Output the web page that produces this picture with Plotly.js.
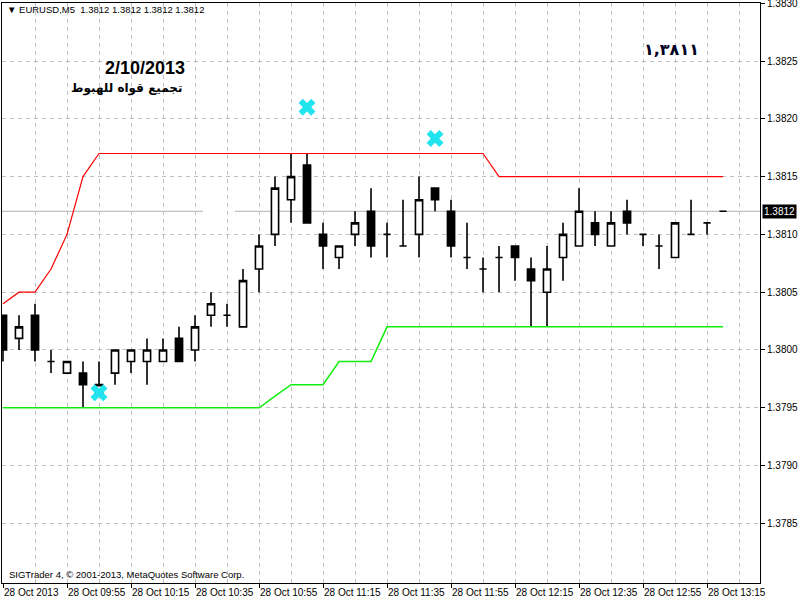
<!DOCTYPE html>
<html>
<head>
<meta charset="utf-8">
<script src="https://cdn.plot.ly/plotly-3.0.1.min.js"></script>
<style>html,body{margin:0;padding:0;background:#fff;}#chart{width:800px;height:600px;}</style>
</head>
<body>
<div id="chart"></div>
<script>
// ---- data (EURUSD M5, 28 Oct 2013, bars 09:35 .. 13:20) ----
const barIndex = Array.from({length: 46}, (_, i) => i);
const openPrices  = [1.3803,1.3801,1.3803,1.3799,1.3798,1.3798,1.3796,1.3798,1.3799,1.3799,1.3799,1.3801,1.3800,1.3803,1.3803,1.3802,1.3807,1.3810,1.3813,1.3816,1.3810,1.3808,1.3810,1.3812,1.3810,1.3809,1.3810,1.3814,1.3812,1.3808,1.3807,1.3808,1.3809,1.3807,1.3805,1.3808,1.3809,1.3811,1.3809,1.3812,1.3810,1.3809,1.3808,1.3810,1.3811,1.3812];
const highPrices  = [1.3803,1.3803,1.3804,1.3800,1.3799,1.3799,1.3799,1.3800,1.3800,1.3801,1.3801,1.3802,1.3803,1.3805,1.3804,1.3807,1.3810,1.3815,1.3817,1.3817,1.3811,1.3809,1.3812,1.3814,1.3811,1.3813,1.3815,1.3814,1.3813,1.3811,1.3808,1.3809,1.3809,1.3808,1.3809,1.3811,1.3814,1.3812,1.3812,1.3813,1.3810,1.3810,1.3811,1.3813,1.3811,1.3812];
const lowPrices   = [1.3799,1.3800,1.3799,1.3798,1.3798,1.3795,1.3796,1.3797,1.3798,1.3797,1.3799,1.3799,1.3799,1.3802,1.3802,1.3802,1.3805,1.3809,1.3811,1.3811,1.3807,1.3807,1.3809,1.3808,1.3808,1.3809,1.3808,1.3812,1.3808,1.3807,1.3805,1.3805,1.3806,1.3802,1.3802,1.3806,1.3809,1.3809,1.3809,1.3810,1.3809,1.3807,1.3808,1.3810,1.3810,1.3812];
const closePrices = [1.3800,1.3802,1.3800,1.3799,1.3799,1.3797,1.3797,1.3800,1.3800,1.3800,1.3800,1.3799,1.3802,1.3804,1.3803,1.3806,1.3809,1.3814,1.3815,1.3811,1.3809,1.3809,1.3811,1.3809,1.3810,1.3809,1.3813,1.3813,1.3809,1.3808,1.3807,1.3808,1.3808,1.3806,1.3807,1.3810,1.3812,1.3810,1.3811,1.3811,1.3810,1.3809,1.3811,1.3810,1.3811,1.3812];
const upperBand = [1.3804,1.3805,1.3805,1.3807,1.3810,1.3815,1.3817,1.3817,1.3817,1.3817,1.3817,1.3817,1.3817,1.3817,1.3817,1.3817,1.3817,1.3817,1.3817,1.3817,1.3817,1.3817,1.3817,1.3817,1.3817,1.3817,1.3817,1.3817,1.3817,1.3817,1.3817,1.3815,1.3815,1.3815,1.3815,1.3815,1.3815,1.3815,1.3815,1.3815,1.3815,1.3815,1.3815,1.3815,1.3815,1.3815];
const lowerBand = [1.3795,1.3795,1.3795,1.3795,1.3795,1.3795,1.3795,1.3795,1.3795,1.3795,1.3795,1.3795,1.3795,1.3795,1.3795,1.3795,1.3795,1.3796,1.3797,1.3797,1.3797,1.3799,1.3799,1.3799,1.3802,1.3802,1.3802,1.3802,1.3802,1.3802,1.3802,1.3802,1.3802,1.3802,1.3802,1.3802,1.3802,1.3802,1.3802,1.3802,1.3802,1.3802,1.3802,1.3802,1.3802,1.3802];
const fractalBars   = [6, 19, 27];
const fractalPrices = [1.37963, 1.38210, 1.38183];
const tickBars   = [0,4,8,12,16,20,24,28,32,36,40,44];
const tickLabels = ["28 Oct 2013","28 Oct 09:55","28 Oct 10:15","28 Oct 10:35","28 Oct 10:55","28 Oct 11:15","28 Oct 11:35","28 Oct 11:55","28 Oct 12:15","28 Oct 12:35","28 Oct 12:55","28 Oct 13:15"];
const priceTicks = [1.3785,1.3790,1.3795,1.3800,1.3805,1.3810,1.3815,1.3820,1.3825,1.3830];
const priceTickLabels = ["1.3785","1.3790","1.3795","1.3800","1.3805","1.3810","1.3815","1.3820","1.3825","1.3830"];
const bidPrice = 1.3812;
const headerText = "▼ EURUSD,M5  1.3812 1.3812 1.3812 1.3812";
const dateText = "2/10/2013";
const arabicText = "تجميع قواه للهبوط";
const levelText = "١,٣٨١١";
const footerText = "SIGTrader 4, © 2001-2013, MetaQuotes Software Corp.";

const FONT = "Liberation Sans, Arial, sans-serif";
const gridStyle = {gridcolor:'#c0c0c0', gridwidth:1, griddash:'4px,4px'};

const traces = [
  {type:'scatter', mode:'lines', x: barIndex, y: upperBand, line:{color:'#ff0000', width:1.2, shape:'linear'}, hoverinfo:'skip'},
  {type:'scatter', mode:'lines', x: barIndex, y: lowerBand, line:{color:'#10ee10', width:1.5, shape:'linear'}, hoverinfo:'skip'},
  {type:'candlestick', x: barIndex, open: openPrices, high: highPrices, low: lowPrices, close: closePrices,
   increasing:{line:{color:'#000', width:1.6}, fillcolor:'#ffffff'},
   decreasing:{line:{color:'#000', width:1.6}, fillcolor:'#000000'},
   whiskerwidth:0, hoverinfo:'skip'},
  {type:'scatter', mode:'markers', x: fractalBars, y: fractalPrices,
   marker:{symbol:'x', size:15, color:'#22e4ee', line:{width:0}}, hoverinfo:'skip'}
];

const layout = {
  width:800, height:600,
  margin:{l:2, r:40, t:3, b:17, pad:0},
  paper_bgcolor:'#ffffff', plot_bgcolor:'#ffffff',
  showlegend:false,
  boxgap:0.36,
  font:{family:FONT, size:10, color:'#000'},
  xaxis:Object.assign({
    range:[-0.0625, 47.31], tickmode:'array', tickvals:tickBars, ticktext:tickLabels,
    tickangle:0,
    ticks:'outside', ticklen:4, tickcolor:'#000', tickwidth:1,
    ticklabelposition:'outside right', ticklabeloverflow:'allow',
    tickfont:{family:FONT, size:10, color:'#000'},
    showgrid:true,
    minor:Object.assign({tickmode:'linear', tick0:0, dtick:2, showgrid:true, ticks:''}, gridStyle),
    showline:true, mirror:true, linecolor:'#000', linewidth:1,
    zeroline:false, rangeslider:{visible:false}, fixedrange:true
  }, gridStyle),
  yaxis:Object.assign({
    side:'right', range:[1.377984, 1.383002], tickmode:'array', tickvals:priceTicks, ticktext:priceTickLabels,
    ticks:'outside', ticklen:4, tickcolor:'#000', tickwidth:1, ticklabeloverflow:'allow',
    tickfont:{family:FONT, size:10, color:'#000'},
    showgrid:true, showline:true, mirror:true, linecolor:'#000', linewidth:1,
    zeroline:false, fixedrange:true
  }, gridStyle),
  shapes:[
    {type:'line', xref:'x', yref:'y', x0:-0.0625, x1:12.5, y0:bidPrice, y1:bidPrice, line:{color:'#c0c0c0', width:1.3}, layer:'below'},
    {type:'line', xref:'x', yref:'y', x0:14.5, x1:47.31, y0:bidPrice, y1:bidPrice, line:{color:'#c0c0c0', width:1.3}, layer:'below'}
  ],
  annotations:[
    {xref:'paper', yref:'paper', x:0.004, y:0.988, xanchor:'left', yanchor:'middle', showarrow:false,
     text:headerText, font:{family:FONT, size:9.5, color:'#000'}},
    {xref:'paper', yref:'paper', x:0.1887, y:0.888, xanchor:'center', yanchor:'middle', showarrow:false,
     text:'<b>'+dateText+'</b>', font:{family:FONT, size:18, color:'#000'}},
    {xref:'paper', yref:'paper', x:0.2401, y:0.8534, xanchor:'right', yanchor:'middle', showarrow:false,
     text:'<b>'+arabicText+'</b>', font:{family:'DejaVu Sans, sans-serif', size:12, color:'#000'}},
    {xref:'paper', yref:'paper', x:0.8839, y:0.919, xanchor:'center', yanchor:'middle', showarrow:false,
     text:'<b>'+levelText+'</b>', font:{family:'DejaVu Sans, sans-serif', size:16, color:'#000022'}},
    {xref:'paper', yref:'paper', x:0.0066, y:0.0138, xanchor:'left', yanchor:'middle', showarrow:false,
     text:footerText, font:{family:FONT, size:9.5, color:'#000'}},
    {xref:'paper', yref:'y', x:1.003, y:bidPrice, xanchor:'left', yanchor:'middle', showarrow:false,
     text:bidPrice.toFixed(4), bgcolor:'#000', borderpad:1, font:{family:FONT, size:10, color:'#fff'}}
  ]
};

Plotly.newPlot('chart', traces, layout, {staticPlot:true, displayModeBar:false});
</script>
</body>
</html>
